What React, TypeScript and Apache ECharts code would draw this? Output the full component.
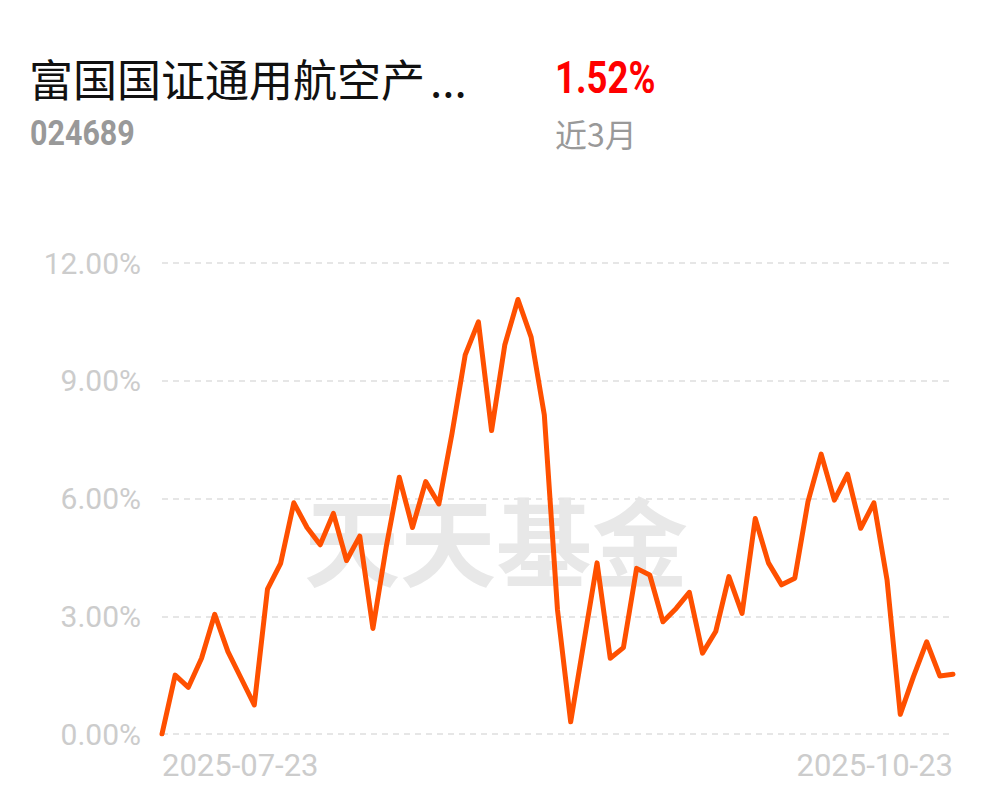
import React, { useEffect, useRef } from "react";
import * as echarts from "echarts";

const julDays = [23, 24, 25, 28, 29, 30, 31];
const augDays = [1, 4, 5, 6, 7, 8, 11, 12, 13, 14, 15, 18, 19, 20, 21, 22, 25, 26, 27, 28, 29];
const sepDays = [1, 2, 3, 4, 5, 8, 9, 10, 11, 12, 15, 16, 17, 18, 19, 22, 23, 24, 25, 26, 29, 30];
const octDays = [9, 10, 13, 14, 15, 16, 17, 20, 21, 22, 23];

const pad = (n: number) => (n < 10 ? "0" + n : "" + n);
const dates: string[] = [
  ...julDays.map((d) => `2025-07-${pad(d)}`),
  ...augDays.map((d) => `2025-08-${pad(d)}`),
  ...sepDays.map((d) => `2025-09-${pad(d)}`),
  ...octDays.map((d) => `2025-10-${pad(d)}`),
];

const returns: number[] = [
  0, 1.5, 1.19, 1.93, 3.05, 2.1, 1.42, 0.74, 3.69, 4.35,
  5.89, 5.26, 4.82, 5.62, 4.42, 5.04, 2.69, 4.75, 6.54, 5.26,
  6.43, 5.86, 7.66, 9.66, 10.5, 7.73, 9.91, 11.07, 10.11, 8.13,
  3.16, 0.31, 2.34, 4.36, 1.93, 2.2, 4.22, 4.05, 2.86, 3.2,
  3.61, 2.06, 2.61, 4.01, 3.07, 5.49, 4.36, 3.8, 3.97, 5.92,
  7.13, 5.96, 6.62, 5.24, 5.89, 3.92, 0.5, 1.46, 2.35, 1.48,
  1.52,
];

const fundName = "富国国证通用航空产";
const ellipsis = "...";
const fundCode = "024689";
const periodReturn = "1.52%";
const periodLabel = "近3月";
const watermark = "天天基金";

export default function App() {
  const ref = useRef<HTMLDivElement>(null);

  useEffect(() => {
    document.body.style.margin = "0";
    if (!ref.current) return;
    const chart = echarts.init(ref.current, undefined, { renderer: "svg" });
    const last = dates.length - 1;
    chart.setOption({
      animation: false,
      backgroundColor: "#ffffff",
      graphic: [
        {
          type: "text",
          x: 29,
          y: 78,
          style: {
            text: fundName,
            font: '44px "Noto Sans CJK SC"',
            fill: "#111111",
            textAlign: "left",
            textVerticalAlign: "middle",
          },
        },
        {
          type: "text",
          x: 430,
          y: 78,
          style: {
            text: ellipsis,
            font: '44px "Noto Sans CJK SC"',
            fill: "#111111",
            textAlign: "left",
            textVerticalAlign: "middle",
          },
        },
        {
          type: "text",
          x: 30,
          y: 133,
          scaleX: 0.87,
          style: {
            text: fundCode,
            font: 'bold 35px Roboto',
            fill: "#999999",
            textAlign: "left",
            textVerticalAlign: "middle",
          },
        },
        {
          type: "text",
          x: 555,
          y: 78,
          scaleX: 0.83,
          style: {
            text: periodReturn,
            font: 'bold 44px Roboto',
            fill: "#ff0000",
            textAlign: "left",
            textVerticalAlign: "middle",
          },
        },
        {
          type: "text",
          x: 555,
          y: 133,
          style: {
            text: periodLabel,
            font: '32px "Noto Sans CJK SC"',
            fill: "#999999",
            textAlign: "left",
            textVerticalAlign: "middle",
          },
        },
        {
          type: "text",
          x: 496,
          y: 537,
          z: -10,
          style: {
            text: watermark,
            font: 'bold 96px "Noto Sans CJK SC"',
            fill: "#e8e8e8",
            textAlign: "center",
            textVerticalAlign: "middle",
          },
        },
      ],
      grid: { left: 162, right: 44, top: 263, bottom: 68, containLabel: false },
      xAxis: {
        type: "category",
        data: dates,
        boundaryGap: false,
        axisLine: { show: false },
        axisTick: { show: false },
        splitLine: { show: false },
        axisLabel: {
          interval: (i: number) => i === 0 || i === last,
          showMinLabel: true,
          showMaxLabel: true,
          alignMinLabel: "left",
          alignMaxLabel: "right",
          color: "#cccccc",
          fontFamily: "Roboto",
          fontSize: 31,
          margin: 16,
        },
      },
      yAxis: {
        type: "value",
        min: 0,
        max: 12,
        interval: 3,
        axisLine: { show: false },
        axisTick: { show: false },
        axisLabel: {
          formatter: (v: number) => v.toFixed(2) + "%",
          color: "#cccccc",
          fontFamily: "Roboto",
          fontSize: 30,
          margin: 21,
        },
        splitLine: {
          show: true,
          lineStyle: { color: "#e6e6e6", width: 2, type: [6, 5] },
        },
      },
      series: [
        {
          type: "line",
          data: returns,
          symbol: "none",
          z: 5,
          lineStyle: { color: "#ff5000", width: 5, join: "round", cap: "round" },
        },
      ],
    });
    return () => chart.dispose();
  }, []);

  return <div ref={ref} style={{ width: 997, height: 802 }} />;
}
